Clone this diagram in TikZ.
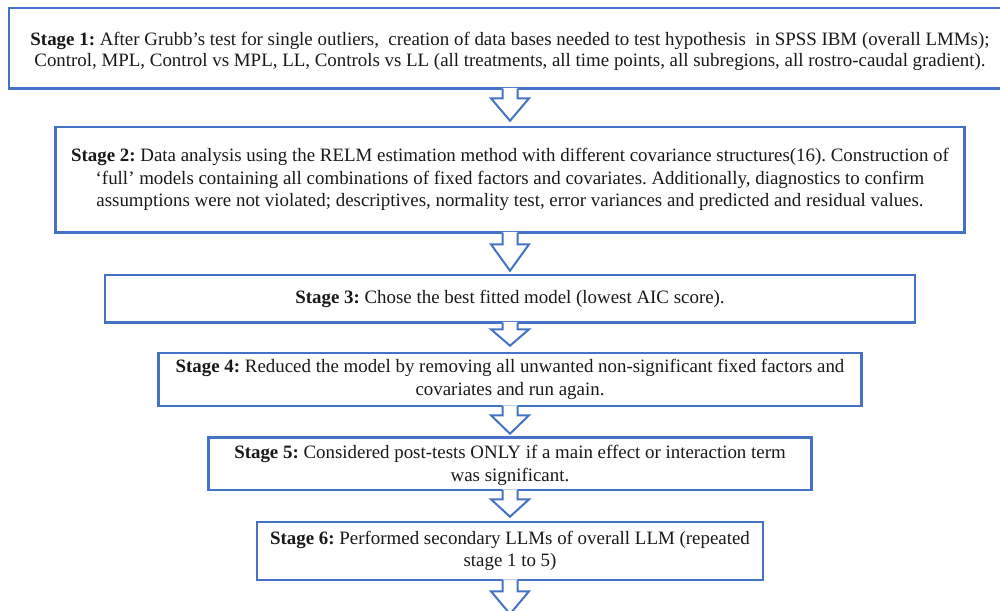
\documentclass[tikz,border=0pt]{standalone}
\usepackage{fontspec}
\setmainfont{Liberation Serif}
\usetikzlibrary{calc}
\definecolor{boxblue}{RGB}{68,114,196}
\definecolor{txt}{RGB}{25,25,25}
\frenchspacing
\tikzset{
  stagebox/.style={draw=boxblue, line width=2.6pt, fill=white, align=center,
    inner sep=0pt, text=txt, font=\fontsize{18.9}{22.5}\selectfont},
  arrline/.style={draw=boxblue, line width=2pt, line join=miter},
}
\newcommand{\blockarr}[3]{%
  \fill[white] let \p1=(#1.south), \p2=(#2) in
    (\x1-7.5pt,\y1+2pt) -- (\x1-7.5pt,\y1-#3) -- (\x1-19pt,\y1-#3) -- (\x1,\y2)
    -- (\x1+19pt,\y1-#3) -- (\x1+7.5pt,\y1-#3) -- (\x1+7.5pt,\y1+2pt) -- cycle;
  \draw[arrline] let \p1=(#1.south), \p2=(#2) in
    (\x1-7.5pt,\y1+1.3pt) -- (\x1-7.5pt,\y1-#3) -- (\x1-19pt,\y1-#3) -- (\x1,\y2)
    -- (\x1+19pt,\y1-#3) -- (\x1+7.5pt,\y1-#3) -- (\x1+7.5pt,\y1+1.3pt);
}
\begin{document}
\begin{tikzpicture}[x=1pt,y=-1pt]
\useasboundingbox (0,0) rectangle (1000,610);
\clip (0,0) rectangle (1000,610);
\node[stagebox, font=\fontsize{18.9}{21.5}\selectfont, minimum width=1002pt, minimum height=80.5pt] (s1) at (510,48.3)
  {\rule{0pt}{19.3pt}\textbf{Stage 1:} After Grubb’s test for single outliers,\ \ creation of data bases needed to test hypothesis\ \ in SPSS IBM (overall LMMs);\\
   Control, MPL, Control vs MPL, LL, Controls vs LL (all treatments, all time points, all subregions, all rostro-caudal gradient).};
\node[stagebox, minimum width=909pt, minimum height=105.5pt] (s2) at (510,179.8)
  {\textbf{Stage 2:} Data analysis using the RELM estimation method with different covariance structures(16). Construction of\\
   ‘full’ models containing all combinations of fixed factors and covariates. Additionally, diagnostics to confirm\\
   assumptions were not violated; descriptives, normality test, error variances and predicted and residual values.};
\node[stagebox, minimum width=810pt, minimum height=47.5pt] (s3) at (510,298.8)
  {\textbf{Stage 3:} Chose the best fitted model (lowest AIC score).};
\node[stagebox, minimum width=703pt, minimum height=53pt] (s4) at (510,379.5)
  {\textbf{Stage 4:} Reduced the model by removing all unwanted non-significant fixed factors and\\
   covariates and run again.};
\node[stagebox, minimum width=603pt, minimum height=52.5pt] (s5) at (510,463.8)
  {\rule{0pt}{16pt}\textbf{Stage 5:} Considered post-tests ONLY if a main effect or interaction term\\
   was significant.};
\node[stagebox, minimum width=506pt, minimum height=58pt] (s6) at (510,551)
  {\textbf{Stage 6:} Performed secondary LLMs of overall LLM (repeated\\
   stage 1 to 5)};
\coordinate (t1) at ([yshift=5pt]s2.north);
\coordinate (t2) at ([yshift=3pt]s3.north);
\coordinate (t3) at ([yshift=6pt]s4.north);
\coordinate (t4) at ([yshift=2.5pt]s5.north);
\coordinate (t5) at ([yshift=4pt]s6.north);
\coordinate (t6) at (510,614);
\blockarr{s1}{t1}{8.5pt}
\blockarr{s2}{t2}{10.5pt}
\blockarr{s3}{t3}{5.5pt}
\blockarr{s4}{t4}{8pt}
\blockarr{s5}{t5}{8pt}
\blockarr{s6}{t6}{10pt}
\end{tikzpicture}
\end{document}
